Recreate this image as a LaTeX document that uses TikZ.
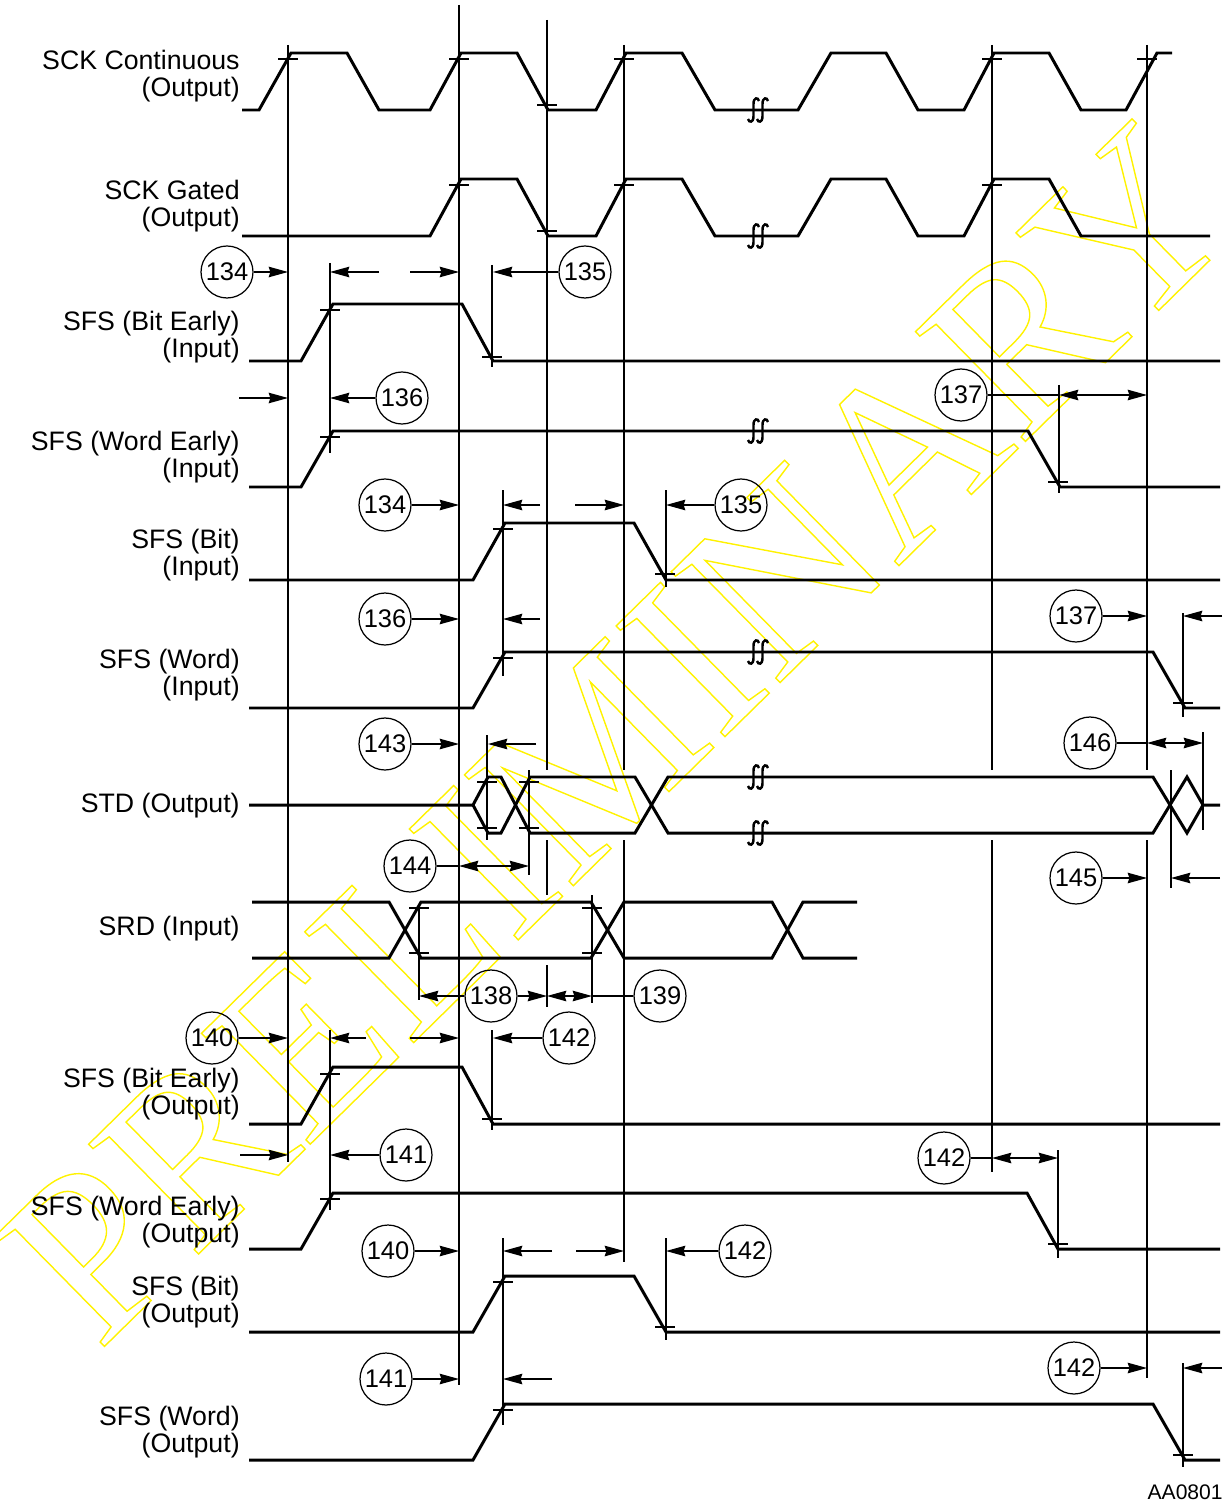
\documentclass[tikz,border=0pt]{standalone}
\usepackage{fontspec}
\setmainfont{Liberation Sans}
\newfontfamily\wmfont{Liberation Serif}
\usetikzlibrary{arrows.meta}

% short tick where an edge meets a reference line
\newcommand{\tck}[2]{\draw[ref] (#1-10,#2) -- (#1+10,#2);}
% break mark on a waveform
\newcommand{\zbreak}[2]{%
\draw[brk] (#1+1,#2-9) .. controls (#1,#2-13) and (#1-4.5,#2-13) .. (#1-4.5,#2-6) -- (#1-4.5,#2+6) .. controls (#1-4.5,#2+13) and (#1-9,#2+13) .. (#1-10,#2+9);
\draw[brk] (#1+10,#2-9) .. controls (#1+9,#2-13) and (#1+4.5,#2-13) .. (#1+4.5,#2-6) -- (#1+4.5,#2+6) .. controls (#1+4.5,#2+13) and (#1,#2+13) .. (#1-1,#2+9);}

\begin{document}
\begin{tikzpicture}[x=0.02cm,y=-0.02cm,
  sig/.style={line width=1.7pt},
  ref/.style={line width=0.7pt},
  brk/.style={line width=1.4pt},
  dim/.style={line width=0.7pt,-{Stealth[length=11pt,width=6pt,inset=1pt]}},
  dimboth/.style={line width=0.7pt,{Stealth[length=11pt,width=6pt,inset=1pt]}-{Stealth[length=11pt,width=6pt,inset=1pt]}},
  num/.style={draw,circle,line width=0.7pt,inner sep=0pt,minimum size=1.04cm,font=\fontsize{14.5}{15}\selectfont},
  lbl/.style={align=right,anchor=east,inner sep=0pt,font=\fontsize{15.2}{15.3}\selectfont}]
\useasboundingbox (0,0) rectangle (1225,1503);
%\draw[step=50,gray,very thin] (0,0) grid (1225,1503);

% watermark
\node[rotate=44.5,text=yellow,inner sep=0pt,font=\wmfont\fontsize{135}{135}\selectfont] (wm) at (617,733)
  {\special{pdf:literal direct 1 Tr 0.8 w}PRELIMINARY\special{pdf:literal direct 0 Tr}};

% labels
\node[lbl] (lsckc) at (240,76) {SCK Continuous\\(Output)};
\node[lbl] (lsckg) at (240,206) {SCK Gated\\(Output)};
\node[lbl] (lbei) at (240,337) {SFS (Bit Early)\\(Input)};
\node[lbl] (lwei) at (240,457) {SFS (Word Early)\\(Input)};
\node[lbl] (lbi) at (240,555) {SFS (Bit)\\(Input)};
\node[lbl] (lwi) at (240,675) {SFS (Word)\\(Input)};
\node[lbl] (lstd) at (240,806) {STD (Output)};
\node[lbl] (lsrd) at (240,929) {SRD (Input)};
\node[lbl] (lbeo) at (240,1094) {SFS (Bit Early)\\(Output)};
\node[lbl] (lweo) at (240,1222) {SFS (Word Early)\\(Output)};
\node[lbl] (lbo) at (240,1302) {SFS (Bit)\\(Output)};
\node[lbl] (lwo) at (240,1432) {SFS (Word)\\(Output)};
\node[anchor=east,inner sep=0pt,font=\fontsize{12}{12}\selectfont] (fig) at (1223,1492) {AA0801};

% reference lines
\draw[ref] (288,45) -- (288,1162);
\draw[ref] (459,5) -- (459,1385);
\draw[ref] (547,20) -- (547,770);
\draw[ref] (547,840) -- (547,895);
\draw[ref] (547,965) -- (547,1007);
\draw[ref] (624,45) -- (624,770);
\draw[ref] (624,840) -- (624,1262);
\draw[ref] (992,45) -- (992,770);
\draw[ref] (992,840) -- (992,1172);
\draw[ref] (1147,45) -- (1147,770);
\draw[ref] (1147,840) -- (1147,1378);

% SCK Continuous
\draw[sig] (242,110) -- (259,110) -- (291,53) -- (347,53) -- (379,110) -- (430,110) -- (461,53) -- (517,53) -- (548,110) -- (596,110) -- (626,53) -- (682,53) -- (715,110) -- (798,110) -- (831,53) -- (886,53) -- (918,110) -- (964,110) -- (994,53) -- (1049,53) -- (1081,110) -- (1126,110) -- (1157,53) -- (1172,53);
\zbreak{758}{110}
\tck{288}{59} \tck{459}{59} \tck{547}{105} \tck{624}{59} \tck{992}{59} \tck{1147}{59}

% SCK Gated
\draw[sig] (242,236) -- (430,236) -- (461,179) -- (517,179) -- (548,236) -- (596,236) -- (626,179) -- (682,179) -- (715,236) -- (798,236) -- (831,179) -- (886,179) -- (918,236) -- (964,236) -- (994,179) -- (1049,179) -- (1081,236) -- (1210,236);
\zbreak{758}{236}
\tck{459}{185} \tck{547}{231} \tck{624}{185} \tck{992}{185}

% SFS (Bit Early) input
\draw[sig] (249,361) -- (301,361) -- (333,304) -- (462,304) -- (493,361) -- (1220,361);
\tck{330}{310} \tck{492}{357}
\draw[ref] (330,263) -- (330,453);
\draw[ref] (492,265) -- (492,367);
\node[num] (c134a) at (227,272) {134};
\draw[dim] (c134a) -- (288,272);
\draw[dim] (379,272) -- (330,272);
\draw[dim] (410,272) -- (459,272);
\node[num] (c135a) at (585,272) {135};
\draw[dim] (c135a) -- (493,272);
\draw[dim] (239,398) -- (288,398);
\node[num] (c136a) at (402,398) {136};
\draw[dim] (c136a) -- (330,398);

% SFS (Word Early) input
\draw[sig] (249,487) -- (301,487) -- (333,431) -- (1028,431) -- (1060,487) -- (1220,487);
\zbreak{758}{431}
\tck{330}{437} \tck{1058}{482}
\draw[ref] (1059,385) -- (1059,493);
\node[num] (c137a) at (961,395) {137};
\draw[ref] (c137a) -- (1059,395);
\draw[dimboth] (1059,395) -- (1147,395);

% SFS (Bit) input
\draw[sig] (249,580) -- (473,580) -- (505,523) -- (634,523) -- (666,580) -- (1220,580);
\tck{503}{529} \tck{665}{574}
\draw[ref] (503,490) -- (503,676);
\draw[ref] (666,490) -- (666,587);
\node[num] (c134b) at (385,505) {134};
\draw[dim] (c134b) -- (459,505);
\draw[dim] (540,505) -- (503,505);
\draw[dim] (575,505) -- (624,505);
\node[num] (c135b) at (741,505) {135};
\draw[dim] (c135b) -- (666,505);

% SFS (Word) input
\draw[sig] (249,708) -- (473,708) -- (505,652) -- (1153,652) -- (1185,708) -- (1220,708);
\zbreak{758}{652}
\tck{503}{658} \tck{1183}{703}
\draw[ref] (1183,613) -- (1183,717);
\node[num] (c136b) at (385,619) {136};
\draw[dim] (c136b) -- (459,619);
\draw[dim] (540,619) -- (503,619);
\node[num] (c137b) at (1076,616) {137};
\draw[dim] (c137b) -- (1147,616);
\draw[dim] (1222,616) -- (1183,616);

% STD
\draw[sig] (249,805) -- (473,805) -- (488,777) -- (501,777) -- (530,833) -- (635,833) -- (668,777) -- (1153,777) -- (1187,833) -- (1203,805) -- (1220,805);
\draw[sig] (473,805) -- (488,833) -- (501,833) -- (530,777) -- (635,777) -- (668,833) -- (1153,833) -- (1187,777) -- (1203,805);
\zbreak{758}{777} \zbreak{758}{833}
\draw[ref] (487,735) -- (487,840);
\draw[ref] (529,770) -- (529,875);
\draw[ref] (1171,770) -- (1171,888);
\draw[ref] (1203,732) -- (1203,830);
\tck{487}{782} \tck{487}{828} \tck{529}{782} \tck{529}{828}
\node[num] (c143) at (385,744) {143};
\draw[dim] (c143) -- (459,744);
\draw[dim] (536,744) -- (488,744);
\node[num] (c146) at (1090,743) {146};
\draw[ref] (c146) -- (1147,743);
\draw[dimboth] (1147,743) -- (1203,743);
\node[num] (c144) at (410,866) {144};
\draw[ref] (c144) -- (459,866);
\draw[dimboth] (459,866) -- (529,866);
\node[num] (c145) at (1076,878) {145};
\draw[dim] (c145) -- (1147,878);
\draw[dim] (1220,878) -- (1171,878);

% SRD
\draw[sig] (252,902) -- (389,902) -- (421,958) -- (591,958) -- (624,902) -- (772,902) -- (803,958) -- (857,958);
\draw[sig] (252,958) -- (389,958) -- (421,902) -- (591,902) -- (624,958) -- (772,958) -- (803,902) -- (857,902);
\draw[ref] (419,905) -- (419,1000);
\draw[ref] (592,895) -- (592,1003);
\tck{419}{908} \tck{419}{953} \tck{592}{908} \tck{592}{953}
\node[num] (c138) at (491,996) {138};
\node[num] (c139) at (660,996) {139};
\draw[dim] (c138) -- (419,996);
\draw[dim] (c138) -- (547,996);
\draw[dimboth] (547,996) -- (592,996);
\draw[ref] (592,996) -- (c139);

% SFS (Bit Early) output
\draw[sig] (249,1124) -- (301,1124) -- (333,1067) -- (462,1067) -- (493,1124) -- (1220,1124);
\tck{330}{1074} \tck{492}{1119}
\draw[ref] (330,1030) -- (330,1210);
\draw[ref] (492,1030) -- (492,1130);
\node[num] (c140a) at (212,1038) {140};
\draw[dim] (c140a) -- (288,1038);
\draw[dim] (366,1038) -- (330,1038);
\draw[dim] (410,1038) -- (459,1038);
\node[num] (c142a) at (569,1038) {142};
\draw[dim] (c142a) -- (493,1038);
\draw[dim] (240,1155) -- (288,1155);
\node[num] (c141a) at (406,1155) {141};
\draw[dim] (c141a) -- (330,1155);

% SFS (Word Early) output
\draw[sig] (249,1249) -- (301,1249) -- (333,1193) -- (1027,1193) -- (1058,1249) -- (1220,1249);
\tck{330}{1199} \tck{1058}{1244}
\draw[ref] (1058,1150) -- (1058,1258);
\node[num] (c142b) at (944,1158) {142};
\draw[ref] (c142b) -- (992,1158);
\draw[dimboth] (992,1158) -- (1058,1158);

% SFS (Bit) output
\draw[sig] (249,1332) -- (473,1332) -- (505,1276) -- (634,1276) -- (666,1332) -- (1220,1332);
\tck{503}{1282} \tck{665}{1327}
\draw[ref] (503,1238) -- (503,1425);
\draw[ref] (666,1238) -- (666,1340);
\node[num] (c140b) at (388,1251) {140};
\draw[dim] (c140b) -- (459,1251);
\draw[dim] (552,1251) -- (503,1251);
\draw[dim] (576,1251) -- (624,1251);
\node[num] (c142c) at (745,1251) {142};
\draw[dim] (c142c) -- (666,1251);

% SFS (Word) output
\draw[sig] (249,1460) -- (473,1460) -- (505,1404) -- (1153,1404) -- (1185,1460) -- (1220,1460);
\tck{503}{1410} \tck{1183}{1455}
\draw[ref] (1183,1363) -- (1183,1467);
\node[num] (c141b) at (386,1379) {141};
\draw[dim] (c141b) -- (459,1379);
\draw[dim] (552,1379) -- (503,1379);
\node[num] (c142d) at (1074,1368) {142};
\draw[dim] (c142d) -- (1147,1368);
\draw[dim] (1222,1368) -- (1183,1368);

\end{tikzpicture}
\end{document}
